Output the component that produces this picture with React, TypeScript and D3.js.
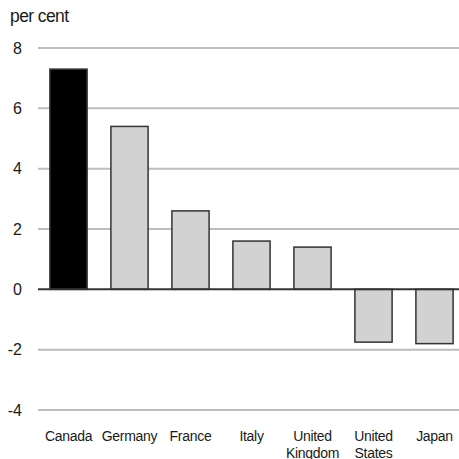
import React from "react";
import * as d3 from "d3";

const categories: string[][] = [
  ["Canada"],
  ["Germany"],
  ["France"],
  ["Italy"],
  ["United", "Kingdom"],
  ["United", "States"],
  ["Japan"],
];
const values: number[] = [7.3, 5.4, 2.6, 1.6, 1.4, -1.75, -1.8];
const highlight: boolean[] = [true, false, false, false, false, false, false];
const yTicks: number[] = [8, 6, 4, 2, 0, -2, -4];
const unitLabel = "per cent";

export default function App() {
  const W = 459;
  const H = 459;
  const font = "'Liberation Sans', Arial, Helvetica, sans-serif";
  const y = d3.scaleLinear().domain([-4, 8]).range([410, 48]);
  const x = d3
    .scaleBand<number>()
    .domain(d3.range(categories.length))
    .range([38, 38 + 61 * categories.length])
    .paddingInner(0.39)
    .paddingOuter(0.195);

  return (
    <svg
      width={W}
      height={H}
      style={{ position: "absolute", left: 0, top: 0, background: "#fff" }}
    >
      <text
        x={10}
        y={22}
        fontFamily={font}
        fontSize={17.5}
        letterSpacing={-0.6}
        fill="#1a1a1a"
      >
        {unitLabel}
      </text>
      {yTicks.map((t) => (
        <g key={t}>
          {t !== 0 && (
            <line
              x1={38}
              x2={W}
              y1={y(t)}
              y2={y(t)}
              stroke="#bdbdbd"
              strokeWidth={2}
            />
          )}
          <text
            x={22}
            y={y(t)}
            dy="0.36em"
            textAnchor="end"
            fontFamily={font}
            fontSize={16}
            fill="#1a1a1a"
          >
            {t}
          </text>
        </g>
      ))}
      {values.map((v, i) => {
        const y0 = y(Math.max(0, v));
        const y1 = y(Math.min(0, v));
        return (
          <rect
            key={i}
            x={x(i)!}
            y={y0}
            width={x.bandwidth()}
            height={y1 - y0}
            fill={highlight[i] ? "#000" : "#d2d2d2"}
            stroke="#333"
            strokeWidth={1.5}
          />
        );
      })}
      <line
        x1={38}
        x2={W}
        y1={y(0)}
        y2={y(0)}
        stroke="#333"
        strokeWidth={2}
      />
      {categories.map((lines, i) => (
        <text
          key={i}
          x={x(i)! + x.bandwidth() / 2}
          y={441}
          textAnchor="middle"
          fontFamily={font}
          fontSize={14}
          letterSpacing={-0.3}
          fill="#1a1a1a"
        >
          {lines.map((l, j) => (
            <tspan key={j} x={x(i)! + x.bandwidth() / 2} dy={j === 0 ? 0 : 16.5}>
              {l}
            </tspan>
          ))}
        </text>
      ))}
    </svg>
  );
}
